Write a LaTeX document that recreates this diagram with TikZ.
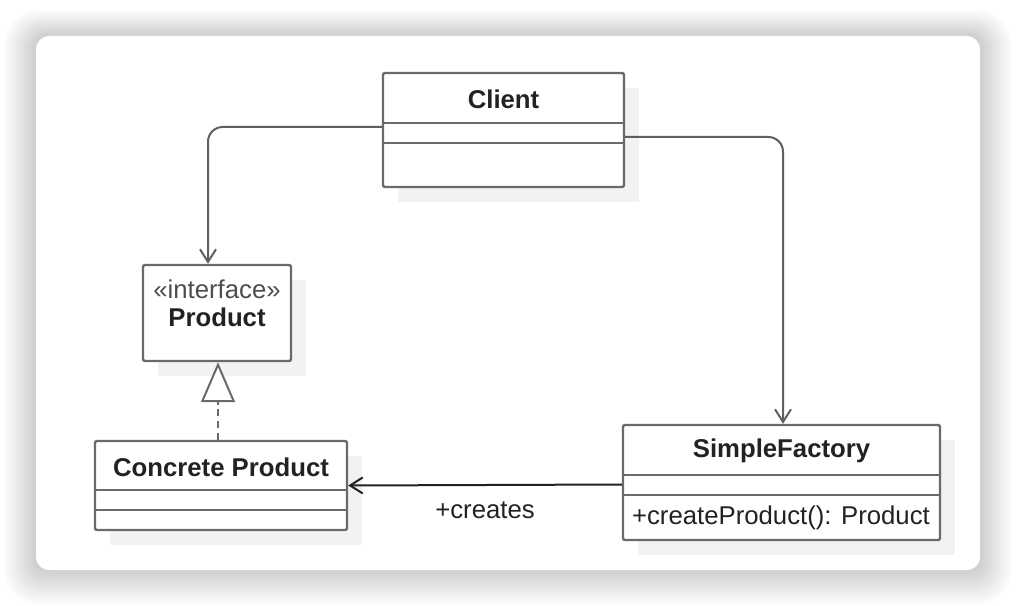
\documentclass[tikz,border=0pt]{standalone}
\usepackage{fontspec}
\setmainfont{Liberation Sans}
\usetikzlibrary{arrows.meta,calc}
\definecolor{umlline}{HTML}{6A6A6A}
\definecolor{umlshadow}{HTML}{F2F2F2}
\definecolor{umltext}{HTML}{222222}
\tikzset{
  classbox/.style = {draw=umlline, line width=1.8pt, fill=white, rounded corners=1.5pt,
                     inner sep=0pt},
  classname/.style = {text=umltext, font=\fontsize{19.3}{23}\selectfont\bfseries, inner sep=0pt},
  member/.style = {text=umltext, font=\fontsize{19.3}{23}\selectfont, inner sep=0pt},
  divider/.style = {draw=umlline, line width=1.8pt},
  assoc/.style = {draw=umlline!90!black, line width=1.5pt, rounded corners=11pt,
                  -{Straight Barb[length=9.5pt,width=12pt]}},
}
\begin{document}
\begin{tikzpicture}[x=0.75pt, y=-0.75pt]
  \useasboundingbox (0,0) rectangle (1016,606);
  % card and its soft shadow
  \foreach \r in {1,...,16}
    \fill[black, opacity=0.011, rounded corners=10+\r] (36-2*\r,36-1.6*\r) rectangle (980+2*\r,570+2.2*\r);
  \fill[white, rounded corners=10] (36,36) rectangle (980,570);
  % box shadows
  \foreach \xa/\ya/\xb/\yb in {383/73/624/187, 143/265/291/361, 95/441/347/530, 623/425/940/540}
    \fill[umlshadow] (\xa+15,\ya+15) rectangle (\xb+15,\yb+15);

  % classes
  \node[classbox, minimum width=180.75pt, minimum height=85.5pt] (client) at (503.5,130) {};
  \node[classname] (clientname) at (503.5,99) {Client};
  \node[classbox, minimum width=111pt, minimum height=72pt] (product) at (217,313) {};
  \node[member, text=umltext!80] (stereo) at (217,289) {«interface»};
  \node[classname] (productname) at (217,317) {Product};
  \node[classbox, minimum width=189pt, minimum height=66.75pt] (concrete) at (221,485.5) {};
  \node[classname] (concretename) at (221,467) {Concrete Product};
  \node[classbox, minimum width=237.75pt, minimum height=86.25pt] (factory) at (781.5,482.5) {};
  \node[classname] (factoryname) at (781.5,451) {SimpleFactory};
  \node[member, anchor=west] (method) at ($(factory.west)+(10,35)$) {+createProduct(): Product};

  % compartments
  \foreach \n/\a/\b in {client/51/71, concrete/50/70, factory/51/71} {
    \draw[divider] ($(\n.north west)+(0,\a)$) -- ($(\n.north east)+(0,\a)$);
    \draw[divider] ($(\n.north west)+(0,\b)$) -- ($(\n.north east)+(0,\b)$);
  }

  % connectors
  \draw[assoc] ($(client.west)+(0,-3)$) -| ($(product.north)+(-9,0)$);
  \draw[assoc] ($(client.east)+(0,7)$) -| ($(factory.north)+(1.5,0)$);
  \draw[assoc, draw=umltext] ($(factory.west)+(0,2)$) -- node[member, below=12pt] (creates) {+creates} (concrete.east);
  \coordinate (base) at ($(product.south)+(1,43)$);
  \draw[umlline, line width=1.8pt, dash pattern=on 5pt off 4pt] ($(concrete.north)+(-3,0)$) -- (base);
  \draw[umlline, line width=1.5pt, -{Triangle[open, fill=white, length=30pt, width=25.5pt]}] (base) -- ($(product.south)+(1,0)$);
\end{tikzpicture}
\end{document}
